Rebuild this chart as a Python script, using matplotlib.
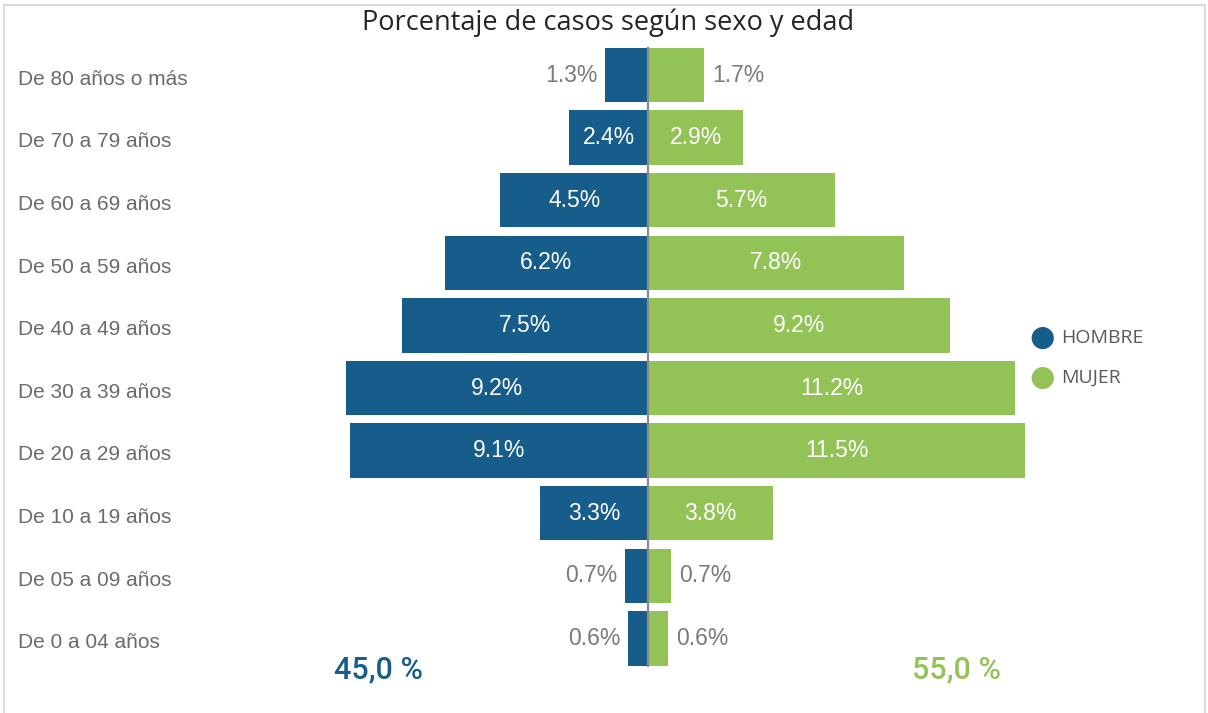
import matplotlib.pyplot as plt
from matplotlib.patches import Rectangle

grupos = ["De 80 años o más", "De 70 a 79 años", "De 60 a 69 años",
          "De 50 a 59 años", "De 40 a 49 años", "De 30 a 39 años",
          "De 20 a 29 años", "De 10 a 19 años", "De 05 a 09 años",
          "De 0 a 04 años"]
hombre = [1.3, 2.4, 4.5, 6.2, 7.5, 9.2, 9.1, 3.3, 0.7, 0.6]
mujer = [1.7, 2.9, 5.7, 7.8, 9.2, 11.2, 11.5, 3.8, 0.7, 0.6]
total_hombre = "45,0 %"
total_mujer = "55,0 %"

AZUL = '#175d8b'
VERDE = '#93c357'
GRIS = '#7a7a7a'
SANS = ['Liberation Sans', 'DejaVu Sans']

W, H = 1208, 713
fig = plt.figure(figsize=(W / 100, H / 100), dpi=100)
ax = fig.add_axes([0, 0, 1, 1])

# pixel mapping: x=0 at px 648, ~32.8 px per percent; rows 62.6 px apart
px_pct = 32.8
x0 = 648
ax.set_xlim(-x0 / px_pct, (W - x0) / px_pct)
row0, pitch = 75, 62.6
ax.set_ylim((H - row0) / pitch, -row0 / pitch)
ax.axis('off')

ys = list(range(len(grupos)))
alto = 0.87
ax.barh(ys, [-v for v in hombre], height=alto, color=AZUL)
ax.barh(ys, mujer, height=alto, color=VERDE)
ax.plot([0, 0], [-alto / 2, len(grupos) - 1 + alto / 2], color='#8a8a8a', lw=1.6)

gap = 8 / px_pct
for y, g, h, m in zip(ys, grupos, hombre, mujer):
    ax.text(-x0 / px_pct + 18 / px_pct, y + 0.07, g, ha='left', va='center',
            fontsize=15, color='#6b6b6b', family=SANS)
    if h >= 2:
        ax.text(-h / 2, y, f"{h:.1f}%", ha='center', va='center',
                fontsize=16.5, color='white', family=SANS)
    else:
        ax.text(-h - gap, y, f"{h:.1f}%", ha='right', va='center',
                fontsize=16.5, color=GRIS, family=SANS)
    if m >= 2:
        ax.text(m / 2, y, f"{m:.1f}%", ha='center', va='center',
                fontsize=16.5, color='white', family=SANS)
    else:
        ax.text(m + gap, y, f"{m:.1f}%", ha='left', va='center',
                fontsize=16.5, color=GRIS, family=SANS)

# title
fig.text(608 / W, 1 - 23 / H, "Porcentaje de casos según sexo y edad",
         ha='center', va='center', fontsize=19.5, color='#252525',
         family='Open Sans')

# legend
for yy, lab, col in [(338, "HOMBRE", AZUL), (378, "MUJER", VERDE)]:
    fig.text(1042 / W, 1 - yy / H, "●", ha='center', va='center',
             fontsize=21, color=col)
    fig.text(1061 / W, 1 - yy / H, lab, ha='left', va='center',
             fontsize=14, color='#5a5a5a', family='Open Sans')

# totals
fig.text(378 / W, 1 - 670 / H, total_hombre, ha='center', va='center',
         fontsize=22, color=AZUL, family='Roboto', fontweight='medium')
fig.text(956 / W, 1 - 670 / H, total_mujer, ha='center', va='center',
         fontsize=22, color=VERDE, family='Roboto', fontweight='medium')

# card border
fig.patches.append(Rectangle((4 / W, -0.01), (1205 - 4) / W, 1 - 5 / H + 0.01,
                             transform=fig.transFigure, fill=False,
                             edgecolor='#dcdcdc', lw=1.5))

fig.savefig('out.png', dpi=100)
